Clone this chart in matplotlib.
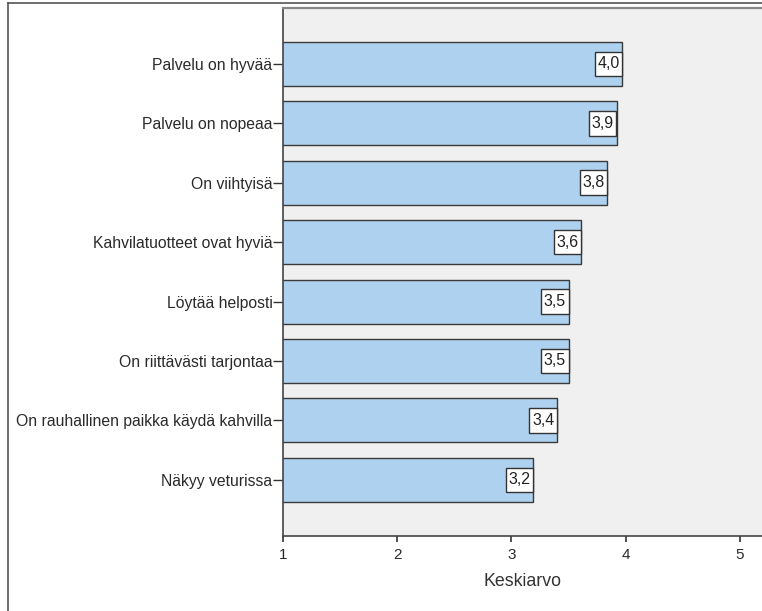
import matplotlib
matplotlib.use("Agg")
import matplotlib.pyplot as plt
from matplotlib.lines import Line2D
from matplotlib.path import Path

categories = [
    "Palvelu on hyvää",
    "Palvelu on nopeaa",
    "On viihtyisä",
    "Kahvilatuotteet ovat hyviä",
    "Löytää helposti",
    "On riittävästi tarjontaa",
    "On rauhallinen paikka käydä kahvilla",
    "Näkyy veturissa",
]
means = [3.97, 3.92, 3.84, 3.61, 3.50, 3.50, 3.40, 3.19]
x_ticks = [1, 2, 3, 4, 5]
x_label = "Keskiarvo"

plt.rcParams["font.family"] = ["Liberation Sans", "DejaVu Sans"]

W, H = 762, 611
fig = plt.figure(figsize=(W / 100, H / 100), dpi=100)
fig.patch.set_facecolor("white")

left, top, bottom = 283 / W, 8 / H, 535.7 / H
ax = fig.add_axes([left, 1 - bottom, 1.0 - left, bottom - top])
ax.set_facecolor("#F0F0F0")


def label_box(x0, y0, width, height, mutation_size):
    # rectangular frame: narrow side padding, taller top/bottom padding
    px, py = 0.17 * mutation_size, 0.3 * mutation_size
    x1, y1 = x0 + width + px, y0 + height + py
    x0, y0 = x0 - px, y0 - py
    return Path([(x0, y0), (x1, y0), (x1, y1), (x0, y1), (x0, y0)],
                closed=True)


ypos = list(range(len(categories)))
ax.barh(ypos, means, left=0, height=0.74, color="#AED1EF",
        edgecolor="#3A3A3A", linewidth=1.0, zorder=2)

for y, v in zip(ypos, means):
    ax.annotate(f"{v:.1f}".replace(".", ","), xy=(v, y), xytext=(-2.0, 0),
                textcoords="offset points", ha="right", va="center",
                fontsize=11.5, color="#222222", zorder=3,
                bbox=dict(boxstyle=label_box, fc="white",
                          ec="#333333", lw=1.0))

ax.set_xlim(1, 1 + (W - 282.3) / 114.4)
ax.set_ylim(len(categories) - 1 + 0.94, -0.94)
ax.set_yticks(ypos)
ax.set_yticklabels(categories, fontsize=11.3, color="#2a2a2a")
ax.set_xticks(x_ticks)
ax.set_xticklabels([str(t) for t in x_ticks], fontsize=11, color="#2a2a2a")
ax.tick_params(axis="y", direction="out", length=7.5, width=1.0,
               color="#333333", pad=0)
ax.tick_params(axis="x", direction="out", length=4.5, width=1.2,
               color="#333333", pad=4)
ax.set_xlabel(x_label, fontsize=12.8, color="#333333", labelpad=8)

ax.spines["right"].set_visible(False)
ax.spines["top"].set_color("#888888")
ax.spines["top"].set_linewidth(1.6)
for s in ("left", "bottom"):
    ax.spines[s].set_color("#444444")
    ax.spines[s].set_linewidth(1.2)

# outer frame of the chart window (top and left edges)
fig.add_artist(Line2D([7.5 / W, 1.0], [1 - 2.5 / H, 1 - 2.5 / H],
                      transform=fig.transFigure, color="#555555", lw=1.2))
fig.add_artist(Line2D([7.5 / W, 7.5 / W], [0, 1 - 2.5 / H],
                      transform=fig.transFigure, color="#555555", lw=1.2))

fig.savefig("out.png", dpi=100)
